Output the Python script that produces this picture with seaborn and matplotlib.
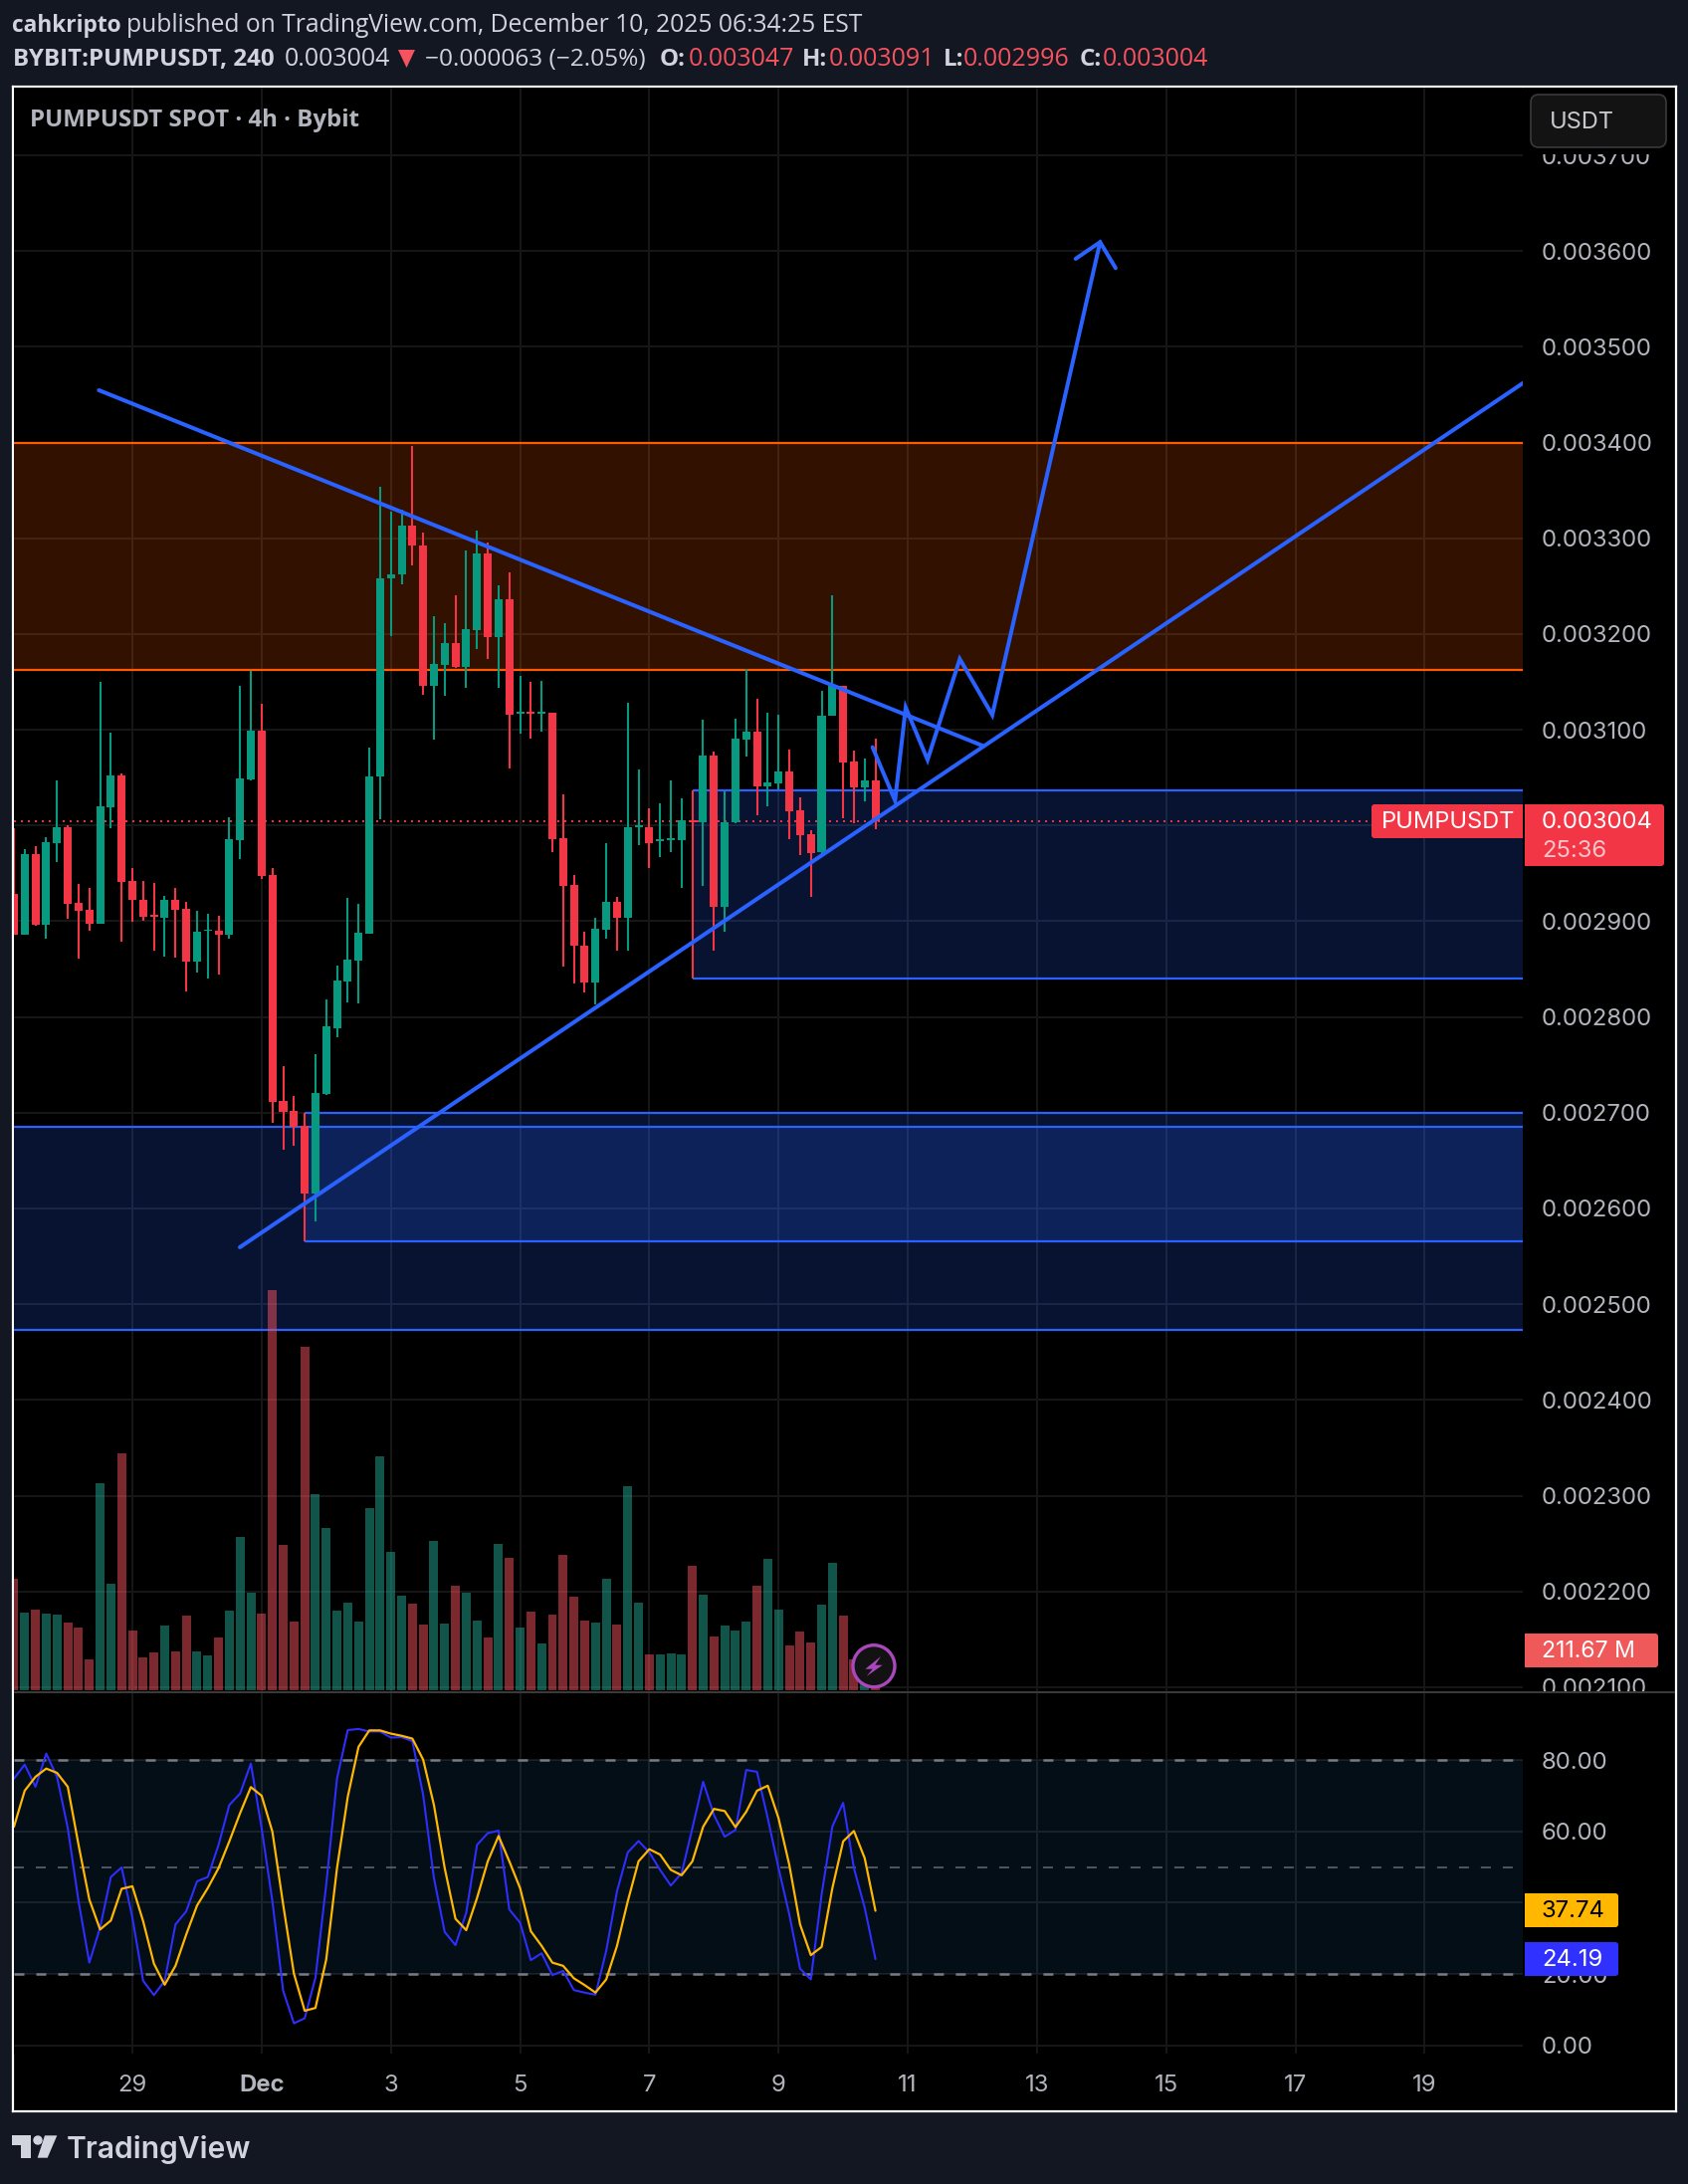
import numpy as np
import matplotlib
matplotlib.use("Agg")
import matplotlib.pyplot as plt
import seaborn as sns
from matplotlib.patches import FancyBboxPatch, Rectangle, Polygon, Circle

# ---------- data (prices in millionths of USDT) ----------
open_u = [2929,2886,2970,2896,2982,2998,2919,2912,2897,3019,3052,2942,2922,2907,2904,2922,2913,2858,2890,2890,
          2886,2985,3048,3099,2948,2712,2702,2686,2616,2720,2788,2837,2859,2887,3051,3258,3262,3313,3292,3146,
          3168,3191,3166,3204,3284,3197,3236,3117,3118,3117,3118,2987,2938,2875,2836,2891,2920,2904,2998,2998,
          2984,2985,2985,3005,3003,3073,2915,3003,3090,3098,3041,3044,3056,3016,2991,2972,3115,3146,3067,3040,3047]
close_u = [2886,2970,2896,2983,2998,2918,2911,2897,3020,3052,2941,2922,2905,2905,2922,2912,2858,2889,2891,2886,
           2986,3049,3099,2947,2711,2701,2685,2616,2721,2790,2838,2860,2888,3051,3258,3262,3313,3292,3146,3169,
           3191,3166,3205,3284,3197,3236,3116,3118,3117,3118,2986,2937,2874,2836,2892,2920,2904,2998,3000,2982,
           2986,2987,3005,3003,3073,2915,3003,3091,3098,3041,3045,3056,3015,2990,2971,3115,3146,3066,3040,3047,3004]
high_u = [2997,2975,2979,2988,3047,3000,2939,2935,3150,3097,3054,2956,2942,2940,2927,2935,2920,2911,2908,2906,
          3009,3146,3162,3127,2956,2749,2717,2700,2761,2818,2854,2924,2918,3081,3354,3328,3330,3396,3306,3219,
          3211,3240,3287,3308,3296,3251,3264,3156,3150,3151,3118,3033,2948,2889,2904,2982,2925,3128,3059,3018,
          3023,3047,3028,3037,3111,3077,3036,3112,3164,3132,3118,3116,3079,3029,2995,3141,3240,3146,3078,3070,3091]
low_u = [2886,2886,2895,2882,2962,2903,2861,2890,2897,2997,2879,2899,2901,2869,2863,2862,2827,2846,2840,2844,
         2882,2965,3047,2944,2689,2661,2665,2566,2587,2719,2779,2815,2814,2887,3007,3198,3252,3272,3137,3090,
         3136,3165,3144,3184,3174,3144,3060,3096,3091,3098,2972,2853,2835,2826,2813,2882,2869,2869,2980,2956,
         2967,2972,2935,2840,2937,2869,2889,3002,3072,3011,3020,3038,2986,2969,2925,2967,3115,3008,3002,3025,2996]
volume_m = [592,412,428,406,401,359,332,163,1101,565,1260,316,173,200,343,205,396,205,184,279,
            422,815,518,406,2129,772,364,1827,1043,862,422,465,364,968,1244,735,502,459,348,793,
            353,555,518,369,279,777,703,332,417,247,401,719,497,369,359,592,348,1085,465,189,
            189,194,189,661,507,284,343,316,364,555,698,428,237,311,253,454,677,396,163,41,14]
stoch_k = [74.8,78.7,72.5,81.8,75.3,60.9,40.4,23.2,33.0,47.2,49.9,35.8,18.1,14.1,18.1,33.9,37.6,46.0,47.2,56.2,
           67.4,70.6,79.0,60.9,40.4,15.3,6.2,7.6,19.0,45.1,74.8,88.4,88.7,88.0,88.0,86.3,86.4,85.3,70.2,46.9,
           31.8,28.1,37.2,56.2,59.5,60.2,38.1,34.4,23.9,25.8,19.7,20.9,15.5,14.8,14.2,26.5,43.2,54.1,57.3,54.1,
           49.2,44.8,48.3,60.9,73.9,64.6,58.5,60.4,77.2,76.7,63.7,49.7,36.7,21.5,18.5,42.3,61.4,68.0,49.7,38.6,24.19]
stoch_d = [61.3,71.4,75.3,77.6,76.4,72.5,56.2,40.9,32.5,35.0,43.9,44.6,34.8,22.9,17.0,22.3,31.1,39.2,44.1,49.7,
           57.2,65.1,72.4,70.0,59.9,39.5,20.1,9.7,10.5,24.1,49.7,69.7,83.7,88.3,88.3,87.4,86.8,86.0,80.1,67.4,
           49.7,35.5,32.3,41.3,51.6,58.7,51.6,44.1,32.0,27.9,23.2,22.3,18.8,16.9,14.8,18.5,27.9,40.4,51.6,55.0,
           53.5,49.2,47.7,51.6,61.3,66.3,65.7,61.2,65.5,71.4,72.8,63.7,50.6,33.9,25.3,27.6,44.1,57.2,60.1,52.5,37.74]
price_ticks_u = [2100,2200,2300,2400,2500,2600,2700,2800,2900,3000,3100,3200,3300,3400,3500,3600,3700]
hidden_price_tick = 3000      # covered by the last-price tag in the reference
rsi_ticks = [0,20,40,60,80]
hidden_rsi_tick = 40          # covered by the 37.74 tag in the reference
time_idx = [11,23,35,47,59,71,83,95,107,119,131]
time_lbl = ["29","Dec","3","5","7","9","11","13","15","17","19"]
# drawings: (bar index, price)
down_x, down_u = [7.89,89.93],[3454.7,3083.5]
up_x, up_u = [20.98,140.11],[2559.5,3462.0]
zig_x = [79.73,81.82,82.81,84.84,87.83,90.85,100.86]
zig_u = [3081.8,3026.0,3123.3,3068.6,3174.0,3115.5,3609.4]
head_x = [98.59,100.86,102.3]
head_u = [3592.0,3609.4,3582.3]
zones = [(0,3400,3163,"#FF5A00"),(0,2685.5,2473.2,"#2962FF"),(27,2700.2,2565.8,"#2962FF"),(63,3037,2840,"#2962FF")]
last_u = 3004

# ---------- style ----------
BG="#131722"; GRID="#171717"; RED="#F23645"; GREEN="#089981"; BLUE="#2962FF"
sns.set_theme(style="dark", rc={"figure.facecolor":BG,"axes.facecolor":"black","savefig.facecolor":BG})
plt.rcParams["font.family"]=["Inter","DejaVu Sans"]
W,H=1696,2194
fig=plt.figure(figsize=(W/100,H/100),dpi=100)
def rect(x0,y0,x1,y1): return [x0/W,1-y1/H,(x1-x0)/W,(y1-y0)/H]
TICK_C="#B2B5BE"; TS=17.2

base=fig.add_axes(rect(13,87,1684,2121),zorder=-1); base.set_xticks([]); base.set_yticks([]); base.set_facecolor("black")
for s in base.spines.values(): s.set_color("white"); s.set_linewidth(1.6); s.set_visible(True)

XR=(1530-14)/10.82
ax=fig.add_axes(rect(14,88,1530,1699),zorder=1)
axv=fig.add_axes(rect(14,88,1530,1699),zorder=2)
axr=fig.add_axes(rect(14,1700,1530,2063),zorder=1)

idx=np.arange(len(open_u))
O,C,Hi,Lo=[np.array(a)*1e-6 for a in (open_u,close_u,high_u,low_u)]
assert all(len(a)==81 for a in (open_u,close_u,high_u,low_u,volume_m,stoch_k,stoch_d))

# main pane
ax.set_facecolor("black")
ax.set_xlim(0,XR); ax.set_ylim(2095.7e-6,3770.8e-6)
ax.set_yticks([v*1e-6 for v in price_ticks_u])
ax.set_yticklabels(["" if v==hidden_price_tick else f"{v*1e-6:.6f}" for v in price_ticks_u])
ax.set_xticks(time_idx); ax.set_xticklabels([])
ax.yaxis.tick_right()
ax.tick_params(axis="y",length=0,pad=13.7,labelsize=TS,labelcolor=TICK_C)
ax.tick_params(axis="x",length=0)
ax.grid(True,color=GRID,lw=1.4); ax.set_axisbelow(True)
for s in ax.spines.values(): s.set_visible(False)
for x0,top,bot,col in zones:
    ax.fill_between([x0,XR],top*1e-6,bot*1e-6,color=col,alpha=0.2,lw=0,zorder=1)
    ax.hlines([top*1e-6,bot*1e-6],x0,XR,color=col,lw=1.6,zorder=1.5)
ax.hlines(last_u*1e-6,0,(1378-14)/10.82,color=RED,lw=1.4,linestyles=(0,(1.0,2.6)),zorder=2.5)
col=[GREEN if c>=o else RED for o,c in zip(O,C)]
ax.vlines(idx,Lo,Hi,colors=col,lw=1.5,zorder=3)
ax.bar(idx,np.maximum(np.abs(C-O),1.5e-6),bottom=np.minimum(O,C),width=0.74,color=col,lw=0,zorder=3)
for xs,ys in ((down_x,down_u),(up_x,up_u),(zig_x,zig_u),(head_x,head_u)):
    sns.lineplot(x=xs,y=np.array(ys)*1e-6,sort=False,estimator=None,color=BLUE,lw=2.9,ax=ax,zorder=4,
                 solid_capstyle="round",solid_joinstyle="miter")
ax.set_xlim(0,XR); ax.set_ylim(2095.7e-6,3770.8e-6)
ax.set_xlabel(""); ax.set_ylabel("")

# volume
vol_dir=["up" if c>=o else "down" for o,c in zip(O,C)]
sns.barplot(x=idx,y=volume_m,hue=vol_dir,palette={"up":"#22AB94","down":"#F7525F"},native_scale=True,dodge=False,
            width=0.83,alpha=0.5,saturation=1,legend=False,errorbar=None,lw=0,ax=axv)
axv.set_xlim(0,XR); axv.set_ylim(-6.9,8531)
axv.patch.set_alpha(0); axv.set_xticks([]); axv.set_yticks([]); axv.set_xlabel(""); axv.set_ylabel("")
for s in axv.spines.values(): s.set_visible(False)

# stochastic RSI pane
axr.set_facecolor("black")
axr.set_xlim(0,XR); axr.set_ylim(-2.3,99)
axr.set_yticks(rsi_ticks); axr.set_yticklabels(["" if v==hidden_rsi_tick else f"{v:.2f}" for v in rsi_ticks])
axr.yaxis.tick_right()
axr.tick_params(axis="y",length=0,pad=13.7,labelsize=TS,labelcolor=TICK_C)
axr.set_xticks(time_idx); axr.set_xticklabels(time_lbl)
axr.tick_params(axis="x",length=0,pad=15,labelsize=TS,labelcolor=TICK_C)
for t in axr.get_xticklabels():
    if t.get_text()=="Dec": t.set_fontweight("bold")
axr.grid(True,color=GRID,lw=1.4); axr.set_axisbelow(True)
for s in axr.spines.values(): s.set_visible(False)
axr.fill_between([0,XR],20,80,color="#28A5F5",alpha=0.09,lw=0,zorder=1)
for lev,lw_,c in ((80,1.8,"#787B86"),(50,1.2,"#5f626b"),(20,1.8,"#787B86")):
    axr.hlines(lev,0,XR,color=c,lw=lw_,linestyles=(0,(10/ (lw_*1.389),12/(lw_*1.389))),zorder=1.5)
sns.lineplot(x=idx,y=stoch_k,estimator=None,color="#2E2EFF",lw=1.5,ax=axr,zorder=3)
sns.lineplot(x=idx,y=stoch_d,estimator=None,color="#FFB700",lw=1.6,ax=axr,zorder=4)
axr.set_xlabel(""); axr.set_ylabel("")

# overlay, in figure pixels
ov=fig.add_axes([0,0,1,1],zorder=20); ov.set_xlim(0,W); ov.set_ylim(H,0); ov.axis("off"); ov.patch.set_alpha(0)
ov.add_patch(Rectangle((1531,88),151,67,fc="black",ec="none"))
ov.add_patch(Rectangle((1531,1699),151,14,fc="black",ec="none"))
ov.add_patch(Rectangle((14,1698.5),1669,2,fc="#3a3a3a",ec="none"))
def box(x0,y0,x1,y1,fc,ec="none",r=3,lw=0):
    ov.add_patch(FancyBboxPatch((x0,y0),x1-x0,y1-y0,boxstyle=f"round,pad=0,rounding_size={r}",fc=fc,ec=ec,lw=lw))
box(1538,95,1674,148,"#131313","#3a3a3a",r=8,lw=1.2)
ov.text(1557,123,"USDT",color="#C8C9CC",fontsize=17,va="center")
ov.text(30,121,"PUMPUSDT SPOT · 4h · Bybit",color="#B2B5BE",fontsize=17.3,va="center",family=["Open Sans","DejaVu Sans"],fontweight="bold")
box(1378,808,1530,842,RED)
ov.add_patch(Rectangle((1520,808),10,34,fc=RED,ec="none"))
ov.text(1388,826,"PUMPUSDT",color="white",fontsize=17,va="center")
box(1532,808,1672,870,RED)
ov.add_patch(Rectangle((1532,808),6,62,fc=RED,ec="none"))
ov.text(1549,826,"0.003004",color="white",fontsize=TS,va="center")
ov.text(1549,855,"25:36",color="#FBC6CB",fontsize=TS,va="center")
box(1532,1641,1666,1675,"#F0595A")
ov.add_patch(Rectangle((1532,1641),6,34,fc="#F0595A",ec="none"))
ov.text(1549,1659,"211.67 M",color="white",fontsize=TS-0.6,va="center")
box(1532,1902,1626,1936,"#FFB700")
ov.add_patch(Rectangle((1532,1902),6,34,fc="#FFB700",ec="none"))
ov.text(1549,1920,"37.74",color="black",fontsize=TS,va="center")
box(1532,1951,1626,1985,"#3030FF")
ov.add_patch(Rectangle((1532,1951),6,34,fc="#3030FF",ec="none"))
ov.text(1549,1969,"24.19",color="white",fontsize=TS,va="center")
# lightning badge
ov.add_patch(Circle((878,1673.7),21,fc="#121212",ec="#AB47BC",lw=2.4))
ov.add_patch(Polygon([(885,1664),(869.3,1676.7),(876.7,1676.7),(870.7,1684),(886.7,1672.7),(879.3,1672.7)],fc="#AB47BC",ec="none"))
# header
HF=["Open Sans","DejaVu Sans"]; HC="#D1D4DC"; HR="#F7525F"
def ht(x,y,s,c=HC,b=False,size=17.8):
    ov.text(x,y,s,color=c,fontsize=size,va="center",family=HF,fontweight="bold" if b else "normal")
ht(12,26,"cahkripto",b=True,size=16.3)
ht(127,26,"published on TradingView.com, December 10, 2025 06:34:25 EST",size=17.7)
y2=60
ht(13,y2,"BYBIT:PUMPUSDT, 240",b=True,size=17.4)
ht(286,y2,"0.003004",size=18)
ov.add_patch(Polygon([(400,50),(417,50),(408.5,68)],fc=HR,ec="none"))
ht(427,y2,"−0.000063 (−2.05%)",size=17.6)
for x1,lab,x2,val in ((663,"O:",692,"0.003047"),(806,"H:",833,"0.003091"),(948,"L:",968,"0.002996"),(1085,"C:",1108,"0.003004")):
    ht(x1,y2,lab,b=True,size=17.4); ht(x2,y2,val,c=HR,size=18)
# logo
LC="#D1D4DC"
ov.add_patch(Polygon([(12.3,2145.3),(30.7,2145.3),(30.7,2167.7),(20.7,2167.7),(20.7,2154.7),(12.3,2154.7)],fc=LC,ec="none"))
ov.add_patch(Circle((38,2150),4.7,fc=LC,ec="none"))
ov.add_patch(Polygon([(45,2145.3),(57.3,2145.3),(47.7,2167.7),(37.7,2167.7)],fc=LC,ec="none"))
ov.text(67,2168,"TradingView",color=LC,fontsize=21.6,va="baseline",fontweight="semibold")

fig.savefig("out.png",dpi=100)
